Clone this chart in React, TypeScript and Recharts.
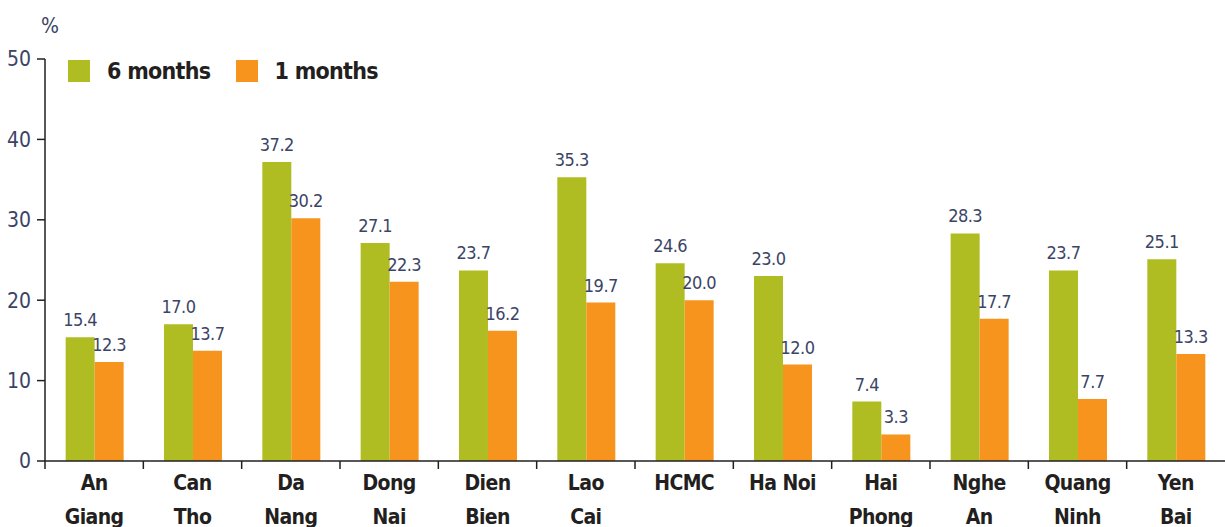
import React from 'react';
import { BarChart, Bar, XAxis, YAxis, LabelList } from 'recharts';

const provinces = [
  'An\nGiang', 'Can\nTho', 'Da\nNang', 'Dong\nNai', 'Dien\nBien', 'Lao\nCai',
  'HCMC', 'Ha Noi', 'Hai\nPhong', 'Nghe\nAn', 'Quang\nNinh', 'Yen\nBai',
];
const sixMonths = [15.4, 17.0, 37.2, 27.1, 23.7, 35.3, 24.6, 23.0, 7.4, 28.3, 23.7, 25.1];
const oneMonth = [12.3, 13.7, 30.2, 22.3, 16.2, 19.7, 20.0, 12.0, 3.3, 17.7, 7.7, 13.3];
const yTicks = [0, 10, 20, 30, 40, 50];

const FONT = "'DejaVu Sans Condensed', 'Roboto', sans-serif";
const GREEN = '#afbd22';
const ORANGE = '#f7941d';
const INK = '#231f20';
const NUM = '#3c4466';

const data = provinces.map((p, i) => ({ name: p, six: sixMonths[i], one: oneMonth[i] }));

const BAND = (1225 - 45) / provinces.length;

const CategoryTick: React.FC<any> = ({ x, y, payload }) => {
  const lines = String(payload.value).split('\n');
  return (
    <g>
      <line x1={x - BAND / 2} x2={x - BAND / 2} y1={y - 8} y2={y} stroke={INK} strokeWidth={1.5} />
      {lines.map((l, i) => (
        <text key={i} x={x} y={y + 21 + i * 34} textAnchor="middle" fill={INK}
          style={{ fontFamily: FONT, fontSize: 21, fontWeight: 700, letterSpacing: -0.6 }}>
          {l}
        </text>
      ))}
    </g>
  );
};

const App: React.FC = () => {
  return (
    <div style={{ position: 'absolute', left: 0, top: 0, width: 1225, height: 527, background: '#fff' }}>
      <div style={{ position: 'absolute', left: 41, top: 14, fontFamily: FONT, fontSize: 21, color: NUM }}>%</div>
      <div style={{ position: 'absolute', left: 68, top: 58, display: 'flex', alignItems: 'center',
        fontFamily: FONT, fontSize: 23, fontWeight: 700, color: INK, letterSpacing: -0.7, zIndex: 2 }}>
        <span style={{ width: 22, height: 22, background: GREEN, display: 'inline-block', marginRight: 17 }} />
        <span style={{ marginRight: 26 }}>6 months</span>
        <span style={{ width: 22, height: 22, background: ORANGE, display: 'inline-block', marginRight: 16 }} />
        <span>1 months</span>
      </div>
      <BarChart width={1225} height={527} data={data}
        margin={{ top: 59, right: 0, left: 0, bottom: 0 }}
        barCategoryGap="21%" barGap={0}>
        <XAxis dataKey="name" interval={0} height={66} tickLine={false}
          axisLine={{ stroke: INK, strokeWidth: 1.5 }} tick={<CategoryTick />} />
        <YAxis width={45} domain={[0, 50]} ticks={yTicks} tickSize={8} tickMargin={6}
          axisLine={{ stroke: INK, strokeWidth: 1.5 }} tickLine={{ stroke: INK, strokeWidth: 1.5 }}
          tick={{ fill: NUM, fontFamily: FONT, fontSize: 21 }} />
        <Bar dataKey="six" fill={GREEN} isAnimationActive={false}>
          <LabelList dataKey="six" position="top" offset={11} formatter={(v: any) => Number(v).toFixed(1)}
            style={{ fill: NUM, fontFamily: FONT, fontSize: 18, letterSpacing: -0.5 }} />
        </Bar>
        <Bar dataKey="one" fill={ORANGE} isAnimationActive={false}>
          <LabelList dataKey="one" position="top" offset={11} formatter={(v: any) => Number(v).toFixed(1)}
            style={{ fill: NUM, fontFamily: FONT, fontSize: 18, letterSpacing: -0.5 }} />
        </Bar>
      </BarChart>
    </div>
  );
};

export default App;
